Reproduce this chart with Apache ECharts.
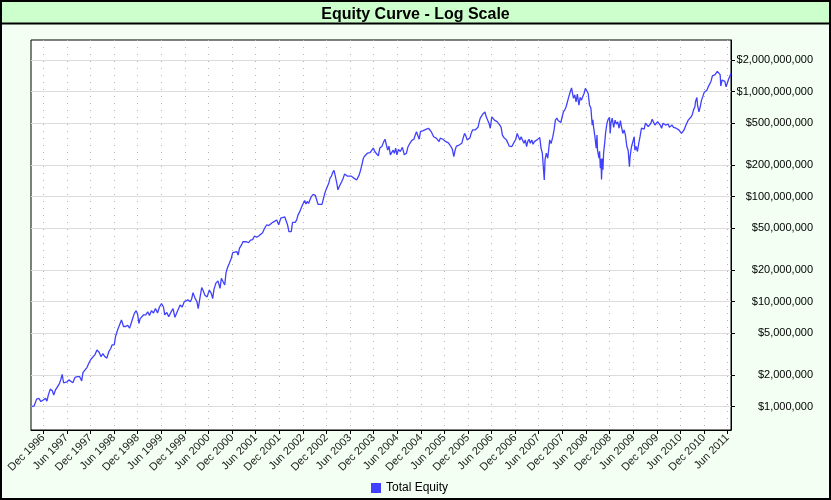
<!DOCTYPE html>
<html lang="en">

<head>
    <meta charset="UTF-8">
    <title>Equity Curve - Log Scale</title>
    <script src="https://cdn.jsdelivr.net/npm/echarts@6.0.0/dist/echarts.min.js"></script>
    <style>
        html, body { margin: 0; padding: 0; background: #f2fff2; }
        #equityChart { width: 831px; height: 500px; }
    </style>
</head>

<body>
    <div id="equityChart"></div>
    <script>
        // tick labels
        const xTickLabels = [
            'Dec 1996', 'Jun 1997', 'Dec 1997', 'Jun 1998', 'Dec 1998', 'Jun 1999',
            'Dec 1999', 'Jun 2000', 'Dec 2000', 'Jun 2001', 'Dec 2001', 'Jun 2002',
            'Dec 2002', 'Jun 2003', 'Dec 2003', 'Jun 2004', 'Dec 2004', 'Jun 2005',
            'Dec 2005', 'Jun 2006', 'Dec 2006', 'Jun 2007', 'Dec 2007', 'Jun 2008',
            'Dec 2008', 'Jun 2009', 'Dec 2009', 'Jun 2010', 'Dec 2010', 'Jun 2011'
        ];
        const yTickValues = [1e6, 2e6, 5e6, 1e7, 2e7, 5e7, 1e8, 2e8, 5e8, 1e9, 2e9];
        const axisStart = '1996-08-28';
        const axisEnd = '2011-06-28';

        // total equity (dates / millions of dollars)
        const equityDates = [
            '1996-09-02', '1996-09-22', '1996-10-10', '1996-10-28', '1996-11-13', '1996-12-01', '1996-12-19', '1996-12-29',
            '1997-01-09', '1997-01-24', '1997-02-09', '1997-02-20', '1997-03-05', '1997-03-20', '1997-04-06', '1997-04-16',
            '1997-04-26', '1997-05-07', '1997-05-17', '1997-06-02', '1997-06-17', '1997-07-02', '1997-07-18', '1997-08-03',
            '1997-08-23', '1997-09-09', '1997-09-24', '1997-10-04', '1997-10-19', '1997-11-05', '1997-11-20', '1997-12-05',
            '1997-12-20', '1998-01-05', '1998-01-20', '1998-02-06', '1998-02-21', '1998-03-07', '1998-03-22', '1998-04-07',
            '1998-04-22', '1998-05-08', '1998-05-17', '1998-06-03', '1998-06-13', '1998-06-29', '1998-07-14', '1998-07-29',
            '1998-08-14', '1998-08-30', '1998-09-15', '1998-09-30', '1998-10-10', '1998-10-20', '1998-11-05', '1998-11-20',
            '1998-12-01', '1998-12-11', '1998-12-21', '1999-01-02', '1999-01-17', '1999-02-02', '1999-02-17', '1999-03-03',
            '1999-03-18', '1999-04-03', '1999-04-18', '1999-05-04', '1999-05-19', '1999-06-04', '1999-06-19', '1999-06-29',
            '1999-07-15', '1999-07-30', '1999-08-15', '1999-09-01', '1999-09-16', '1999-10-01', '1999-10-16', '1999-10-26',
            '1999-11-11', '1999-11-27', '1999-12-12', '1999-12-27', '2000-01-13', '2000-01-23', '2000-02-03', '2000-02-18',
            '2000-03-04', '2000-03-14', '2000-03-25', '2000-04-10', '2000-04-22', '2000-05-03', '2000-05-22', '2000-06-08',
            '2000-06-23', '2000-07-04', '2000-07-14', '2000-07-29', '2000-08-14', '2000-08-30', '2000-09-09', '2000-09-24',
            '2000-10-05', '2000-10-15', '2000-10-25', '2000-11-10', '2000-11-25', '2000-12-06', '2000-12-21', '2001-01-07',
            '2001-01-17', '2001-01-27', '2001-02-12', '2001-02-23', '2001-03-08', '2001-03-23', '2001-04-08', '2001-04-23',
            '2001-05-09', '2001-05-24', '2001-06-09', '2001-06-25', '2001-07-10', '2001-07-25', '2001-08-10', '2001-08-26',
            '2001-09-11', '2001-09-26', '2001-10-12', '2001-10-27', '2001-11-12', '2001-11-27', '2001-12-13', '2001-12-28',
            '2002-01-13', '2002-01-23', '2002-02-03', '2002-02-14', '2002-02-24', '2002-03-04', '2002-03-14', '2002-03-24',
            '2002-04-04', '2002-04-15', '2002-04-25', '2002-05-05', '2002-05-15', '2002-05-25', '2002-06-05', '2002-06-16',
            '2002-06-26', '2002-07-06', '2002-07-16', '2002-07-26', '2002-08-06', '2002-08-21', '2002-09-06', '2002-09-17',
            '2002-09-27', '2002-10-12', '2002-10-28', '2002-11-07', '2002-11-18', '2002-11-28', '2002-12-08', '2002-12-19',
            '2002-12-29', '2003-01-09', '2003-01-19', '2003-01-29', '2003-02-09', '2003-02-20', '2003-02-28', '2003-03-10',
            '2003-03-20', '2003-03-30', '2003-04-10', '2003-04-21', '2003-05-01', '2003-05-11', '2003-05-26', '2003-06-11',
            '2003-06-22', '2003-07-02', '2003-07-23', '2003-08-12', '2003-08-23', '2003-09-03', '2003-09-13', '2003-09-24',
            '2003-10-04', '2003-10-14', '2003-10-24', '2003-11-04', '2003-11-19', '2003-11-29', '2003-12-10', '2003-12-25',
            '2004-01-07', '2004-01-18', '2004-02-03', '2004-02-18', '2004-02-28', '2004-03-08', '2004-03-19', '2004-03-29',
            '2004-04-09', '2004-04-20', '2004-04-30', '2004-05-10', '2004-05-20', '2004-05-30', '2004-06-10', '2004-06-25',
            '2004-07-11', '2004-07-26', '2004-08-11', '2004-08-22', '2004-09-07', '2004-09-22', '2004-10-08', '2004-10-18',
            '2004-10-28', '2004-11-08', '2004-11-18', '2004-11-28', '2004-12-09', '2004-12-19', '2004-12-29', '2005-01-09',
            '2005-01-19', '2005-01-29', '2005-02-09', '2005-02-19', '2005-02-28', '2005-03-10', '2005-03-20', '2005-03-30',
            '2005-04-11', '2005-04-21', '2005-04-30', '2005-05-11', '2005-05-21', '2005-06-01', '2005-06-12', '2005-06-22',
            '2005-07-02', '2005-07-12', '2005-07-22', '2005-08-02', '2005-08-13', '2005-08-23', '2005-09-02', '2005-09-13',
            '2005-09-23', '2005-10-03', '2005-10-14', '2005-10-24', '2005-11-04', '2005-11-14', '2005-11-24', '2005-12-04',
            '2005-12-15', '2005-12-25', '2006-01-05', '2006-01-15', '2006-01-25', '2006-02-05', '2006-02-16', '2006-02-26',
            '2006-03-06', '2006-03-16', '2006-03-26', '2006-04-06', '2006-04-11', '2006-04-21', '2006-05-02', '2006-05-12',
            '2006-05-22', '2006-06-03', '2006-06-13', '2006-06-23', '2006-07-04', '2006-07-14', '2006-07-24', '2006-08-04',
            '2006-08-14', '2006-08-24', '2006-09-04', '2006-09-14', '2006-09-24', '2006-10-05', '2006-10-15', '2006-10-25',
            '2006-11-05', '2006-11-15', '2006-11-25', '2006-12-06', '2006-12-16', '2006-12-26', '2007-01-06', '2007-01-16',
            '2007-01-26', '2007-02-07', '2007-02-17', '2007-02-27', '2007-03-08', '2007-03-18', '2007-03-28', '2007-04-08',
            '2007-04-18', '2007-04-28', '2007-05-09', '2007-05-19', '2007-05-29', '2007-06-09', '2007-06-19', '2007-06-29',
            '2007-07-10', '2007-07-14', '2007-07-20', '2007-07-30', '2007-08-10', '2007-08-25', '2007-09-05', '2007-09-18',
            '2007-09-28', '2007-10-08', '2007-10-19', '2007-10-29', '2007-11-08', '2007-11-19', '2007-11-29', '2007-12-09',
            '2007-12-20', '2007-12-30', '2008-01-10', '2008-01-20', '2008-01-30', '2008-02-10', '2008-02-15', '2008-02-25',
            '2008-03-06', '2008-03-16', '2008-03-26', '2008-04-07', '2008-04-17', '2008-04-27', '2008-05-07', '2008-05-17',
            '2008-05-27', '2008-06-08', '2008-06-18', '2008-06-28', '2008-07-09', '2008-07-19', '2008-07-24', '2008-07-29',
            '2008-08-09', '2008-08-19', '2008-08-25', '2008-08-29', '2008-09-09', '2008-09-14', '2008-09-20', '2008-09-25',
            '2008-09-29', '2008-10-05', '2008-10-10', '2008-10-15', '2008-10-26', '2008-10-30', '2008-11-10', '2008-11-20',
            '2008-11-30', '2008-12-05', '2008-12-11', '2008-12-21', '2009-01-01', '2009-01-12', '2009-01-22', '2009-02-01',
            '2009-02-12', '2009-02-22', '2009-03-02', '2009-03-13', '2009-03-23', '2009-04-02', '2009-04-13', '2009-04-23',
            '2009-05-03', '2009-05-08', '2009-05-18', '2009-05-29', '2009-06-09', '2009-06-14', '2009-06-24', '2009-07-04',
            '2009-07-14', '2009-07-24', '2009-08-04', '2009-08-15', '2009-08-25', '2009-09-04', '2009-09-16', '2009-09-26',
            '2009-10-06', '2009-10-16', '2009-10-26', '2009-11-06', '2009-11-16', '2009-11-26', '2009-12-07', '2009-12-17',
            '2009-12-27', '2010-01-07', '2010-01-18', '2010-01-28', '2010-02-07', '2010-02-18', '2010-02-28', '2010-03-08',
            '2010-03-19', '2010-03-29', '2010-04-09', '2010-04-19', '2010-04-29', '2010-05-09', '2010-05-20', '2010-05-30',
            '2010-06-10', '2010-06-20', '2010-06-30', '2010-07-10', '2010-07-21', '2010-08-01', '2010-08-11', '2010-08-21',
            '2010-09-01', '2010-09-11', '2010-09-22', '2010-09-26', '2010-10-07', '2010-10-12', '2010-10-23', '2010-11-02',
            '2010-11-12', '2010-11-23', '2010-12-03', '2010-12-13', '2010-12-23', '2011-01-03', '2011-01-13', '2011-01-24',
            '2011-02-04', '2011-02-14', '2011-02-25', '2011-03-04', '2011-03-14', '2011-03-25', '2011-04-05', '2011-04-10',
            '2011-04-20', '2011-04-30', '2011-05-11', '2011-05-21', '2011-06-01', '2011-06-12', '2011-06-22', '2011-06-27'
        ];
        const equityMillions = [
            1.00, 1.02, 1.18, 1.20, 1.12, 1.16, 1.20, 1.13,
            1.29, 1.47, 1.42, 1.29, 1.44, 1.50, 1.67, 1.82,
            2.03, 1.69, 1.76, 1.72, 1.80, 1.74, 1.69, 1.90,
            1.93, 1.93, 1.76, 2.11, 2.23, 2.37, 2.62, 2.83,
            2.75, 3.13, 3.46, 3.30, 2.99, 3.20, 3.00, 2.90,
            3.34, 3.60, 3.87, 3.87, 4.64, 5.37, 5.60, 6.70,
            5.80, 5.80, 5.95, 5.60, 5.80, 6.70, 7.70, 8.20,
            7.60, 6.20, 6.90, 7.10, 7.50, 7.50, 8.00, 7.40,
            8.20, 7.80, 8.60, 7.80, 8.90, 9.60, 8.90, 7.50,
            7.90, 7.20, 7.90, 8.60, 7.10, 7.90, 8.00, 9.30,
            8.90, 10.0, 9.60, 10.4, 10.0, 10.6, 12.2, 10.8,
            10.0, 8.60, 10.4, 13.6, 12.7, 11.6, 11.1, 12.9,
            12.0, 10.7, 13.1, 15.0, 15.8, 13.4, 16.7, 16.1,
            14.4, 18.7, 20.8, 23.2, 25.9, 29.3, 29.0, 30.0,
            27.8, 32.2, 34.7, 37.2, 38.6, 37.2, 36.4, 38.6,
            39.0, 42.2, 41.0, 42.2, 43.1, 45.3, 50.0, 54.0,
            53.0, 54.0, 56.9, 56.0, 60.0, 54.0, 62.5, 61.0,
            64.0, 65.4, 54.0, 46.4, 48.0, 46.4, 56.9, 59.0,
            56.9, 60.0, 66.7, 70.4, 72.0, 80.4, 86.6, 92.0,
            85.0, 90.0, 86.0, 93.0, 100, 105, 103, 93,
            84.5, 84.5, 84.5, 82.7, 107, 116, 121, 134,
            150, 157, 170, 178, 180, 134, 116, 124,
            132, 139, 150, 164, 167, 157, 153, 157,
            153, 150, 144, 161, 180, 204, 232, 244,
            250, 259, 269, 262, 265, 290, 269, 259,
            244, 290, 300, 334, 352, 347, 277, 303,
            250, 240, 277, 259, 290, 250, 282, 269,
            295, 250, 259, 295, 322, 343, 352, 385,
            415, 405, 352, 415, 405, 425, 432, 437,
            425, 448, 457, 415, 395, 372, 385, 361,
            372, 334, 360, 372, 352, 352, 334, 340,
            325, 334, 300, 282, 240, 277, 303, 295,
            310, 300, 322, 361, 400, 380, 347, 334,
            361, 400, 432, 420, 432, 420, 457, 518,
            560, 585, 613, 600, 640, 575, 560, 500,
            448, 575, 560, 535, 540, 518, 500, 480,
            457, 385, 366, 372, 347, 325, 303, 315,
            300, 310, 334, 352, 400, 385, 347, 372,
            347, 322, 347, 300, 334, 352, 322, 347,
            315, 334, 325, 347, 334, 366, 290, 259,
            250, 144, 225, 259, 232, 347, 320, 372,
            432, 535, 560, 530, 550, 508, 570, 640,
            670, 718, 745, 895, 985, 1085, 1100, 864,
            930, 800, 945, 745, 880, 830, 900, 960,
            1075, 1110, 960, 745, 695, 480, 540, 465,
            372, 290, 385, 277, 232, 270, 186, 230,
            146, 230, 180, 259, 347, 400, 500, 545,
            570, 400, 500, 560, 457, 535, 490, 515,
            448, 530, 465, 400, 432, 385, 300, 277,
            193, 240, 295, 305, 372, 277, 300, 269,
            322, 372, 448, 457, 440, 500, 518, 465,
            448, 500, 545, 560, 480, 465, 518, 525,
            480, 448, 500, 518, 480, 465, 490, 457,
            470, 480, 457, 470, 448, 457, 432, 415,
            400, 395, 432, 465, 500, 535, 525, 570,
            600, 670, 718, 800, 880, 745, 640, 720,
            830, 905, 985, 1010, 1030, 1110, 1080, 1250,
            1410, 1390, 1450, 1500, 1560, 1620, 1450, 1130,
            1290, 1310, 1250, 1110, 1220, 1340, 1420, 1500
        ];

        const monthNames = ['Jan', 'Feb', 'Mar', 'Apr', 'May', 'Jun', 'Jul', 'Aug', 'Sep', 'Oct', 'Nov', 'Dec'];

        function dayTime(s) {
            const parts = s.split('-').map(Number);
            return Date.UTC(parts[0], parts[1] - 1, parts[2]);
        }
        function tickTime(label) {
            const parts = label.split(' ');
            return Date.UTC(+parts[1], monthNames.indexOf(parts[0]), 1);
        }

        const xTicks = xTickLabels.map(tickTime);
        const seriesData = equityDates.map((d, i) => [dayTime(d), equityMillions[i] * 1e6]);

        const chart = echarts.init(document.getElementById('equityChart'));
        chart.setOption({
            animation: false,
            backgroundColor: '#f2fff2',
            textStyle: { fontFamily: 'Arial, "Liberation Sans", sans-serif' },
            graphic: [
                {
                    type: 'rect',
                    shape: { x: 0, y: 0, width: 831, height: 24 },
                    style: { fill: '#ccffcc' },
                    z: -10
                },
                {
                    type: 'line',
                    shape: { x1: 0, y1: 23.5, x2: 831, y2: 23.5 },
                    style: { stroke: '#000', lineWidth: 2 },
                    z: -9
                },
                {
                    type: 'rect',
                    shape: { x: 1, y: 1, width: 829, height: 498 },
                    style: { fill: null, stroke: '#000', lineWidth: 2 },
                    z: 100
                }
            ],
            title: {
                text: 'Equity Curve - Log Scale',
                left: 'center',
                top: 2,
                textStyle: { fontSize: 16, fontWeight: 'bold', color: '#000' }
            },
            legend: {
                data: ['Total Equity'],
                left: 371,
                top: 482,
                padding: 0,
                icon: 'rect',
                itemWidth: 10,
                itemHeight: 10,
                textStyle: { fontSize: 12, color: '#000' }
            },
            grid: {
                left: 31,
                right: 100,
                top: 40,
                bottom: 70,
                show: true,
                backgroundColor: '#fff',
                borderColor: '#000',
                borderWidth: 1
            },
            xAxis: {
                // dates as UTC milliseconds on a plain value scale
                type: 'value',
                min: dayTime(axisStart),
                max: dayTime(axisEnd),
                axisLine: { lineStyle: { color: '#000', width: 1 } },
                axisTick: {
                    customValues: xTicks,
                    length: 4,
                    lineStyle: { color: '#000' }
                },
                axisLabel: {
                    customValues: xTicks,
                    rotate: 45,
                    margin: 6,
                    fontSize: 11,
                    color: '#222',
                    formatter: v => {
                        const d = new Date(v);
                        return monthNames[d.getUTCMonth()] + ' ' + d.getUTCFullYear();
                    }
                },
                splitLine: {
                    show: true,
                    lineStyle: { color: '#b4b4b4', width: 1, type: [1, 6] }
                }
            },
            yAxis: {
                type: 'log',
                logBase: 10,
                position: 'right',
                min: 600000,
                max: 3.1e9,
                axisLine: { show: true, lineStyle: { color: '#000', width: 1 } },
                axisTick: {
                    show: true,
                    customValues: yTickValues,
                    length: 4,
                    lineStyle: { color: '#000' }
                },
                axisLabel: {
                    customValues: yTickValues,
                    align: 'right',
                    margin: 82,
                    fontSize: 11,
                    color: '#000',
                    formatter: v => '$' + Math.round(v).toLocaleString('en-US')
                },
                splitLine: {
                    show: true,
                    lineStyle: { color: '#dcdcdc', width: 1 }
                }
            },
            series: [{
                name: 'Total Equity',
                type: 'line',
                data: seriesData,
                showSymbol: false,
                color: '#4040ff',
                lineStyle: { color: '#4040ff', width: 1.3 }
            }]
        });
    </script>
</body>

</html>
